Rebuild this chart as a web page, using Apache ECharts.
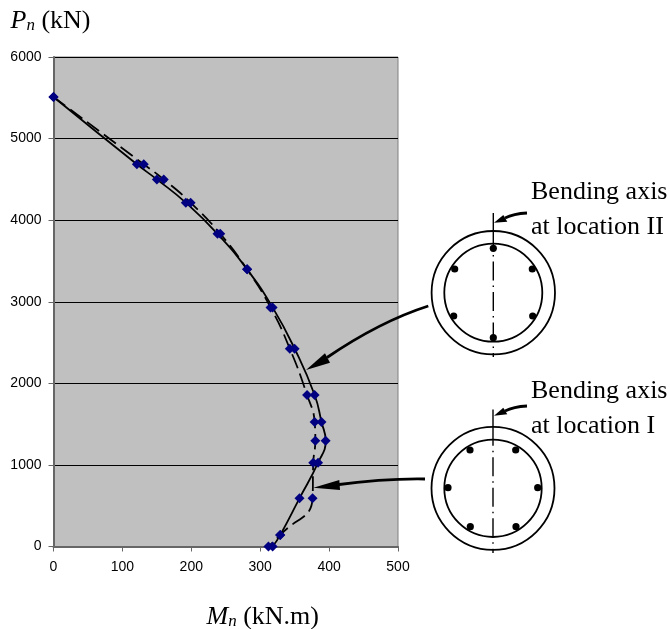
<!DOCTYPE html>
<html><head><meta charset="utf-8">
<style>html,body{margin:0;padding:0;background:#fff}#c{width:670px;height:629px}</style>
<script src="https://cdn.jsdelivr.net/npm/echarts@6/dist/echarts.min.js"></script></head>
<body><div id="c"></div>
<script>
const axialLoad = [5510,4685,4500,4215,3833,3397,2931,2424,1857,1526,1297,1027,590,140,0];
const momentLocationII = [0,121,150,192,238,281,318,350,379,389,395,384,357,329,318];
const momentLocationI  = [0,131,160,199,242,281,315,343,368,379,380,377,376,329,312];
const xTicks = {min:0,max:500,interval:100};
const yTicks = {min:0,max:6000,interval:1000};
const serif = '"Liberation Serif","Times New Roman",serif';
const sans = '"Liberation Sans",Arial,sans-serif';
const pair = a => a.map((m,i)=>[m,axialLoad[i]]);

function ring(cx,cy,ro,ri,bars,top,bottom){
  const els=[
    {type:'circle',shape:{cx,cy,r:ro},style:{stroke:'#000',lineWidth:1.8,fill:null}},
    {type:'circle',shape:{cx,cy,r:ri},style:{stroke:'#000',lineWidth:1.8,fill:null}},
    {type:'line',shape:{x1:cx,y1:top,x2:cx,y2:cy-ro},style:{stroke:'#000',lineWidth:1.4}},
    {type:'line',shape:{x1:cx,y1:cy-ro,x2:cx,y2:bottom},style:{stroke:'#000',lineWidth:1.4,lineDash:[19,5,1.5,5]}}
  ];
  bars.forEach(b=>els.push({type:'circle',shape:{cx:b[0],cy:b[1],r:3.6},style:{fill:'#000'}}));
  return els;
}
function arrow(x1,y1,cx1,cy1,cx2,cy2,x2,y2,head,w){
  return [
    {type:'bezierCurve',shape:{x1,y1,cpx1:cx1,cpy1:cy1,cpx2:cx2,cpy2:cy2,x2,y2},style:{stroke:'#000',lineWidth:w,fill:null}},
    {type:'polygon',shape:{points:head},style:{fill:'#000'}}
  ];
}
const txt=(x,y,t)=>({type:'text',x,y,style:{text:t,font:'26px '+serif,fill:'#000',textVerticalAlign:'middle'}});
const richName={i:{fontFamily:serif,fontStyle:'italic',fontSize:26,color:'#000'},
  s:{fontFamily:serif,fontStyle:'italic',fontSize:17,color:'#000',padding:[9,0,0,0]},
  t:{fontFamily:serif,fontSize:26,color:'#000'}};

const chart=echarts.init(document.getElementById('c'),null,{renderer:'canvas'});
chart.setOption({
  animation:false,
  grid:{left:53.5,top:57,width:344.5,height:489.5,outerBoundsMode:'none',show:true,backgroundColor:'#c0c0c0',borderColor:'#808080',borderWidth:1},
  xAxis:{type:'value',...xTicks,splitLine:{show:false},
    axisLine:{onZero:false,lineStyle:{color:'#666',width:2}},axisTick:{length:5,lineStyle:{color:'#666'}},
    axisLabel:{fontFamily:sans,fontSize:14,color:'#000',margin:14},
    name:'{i|M}{s|n}{t| (kN.m)}',nameLocation:'middle',nameGap:58,nameTextStyle:{rich:richName,padding:[0,0,0,74]}},
  yAxis:{type:'value',...yTicks,splitLine:{lineStyle:{color:'#000',width:1}},
    axisLine:{onZero:false,lineStyle:{color:'#666',width:2}},axisTick:{length:5,lineStyle:{color:'#666'}},
    axisLabel:{fontFamily:sans,fontSize:14,color:'#000',margin:12,formatter:v=>String(v)},
    name:'{i|P}{s|n}{t| (kN)}',nameLocation:'end',nameGap:23,nameTextStyle:{rich:richName,align:'left',padding:[0,0,0,-43]}},
  series:[
    {name:'Location II',type:'line',smooth:0.5,data:pair(momentLocationII),symbol:'diamond',symbolSize:10,
      itemStyle:{color:'#000080'},lineStyle:{color:'#000',width:1.8}},
    {name:'Location I',type:'line',smooth:0.5,data:pair(momentLocationI),symbol:'diamond',symbolSize:10,
      itemStyle:{color:'#000080'},lineStyle:{color:'#000',width:1.8,type:[15,6]}}
  ],
  graphic:{elements:[
    ...ring(493.3,292.7,61.7,49,[[493.3,248.3],[454.7,269],[532.3,269],[453.7,316],[532.7,316],[493.3,337.7]],213,357),
    ...ring(493,488.3,61.5,48.7,[[470,450],[515.7,450],[448,487.7],[537.7,487.7],[470.3,526.7],[516,526.7]],409.5,553),
    ...arrow(428.3,306,397,316,363,333,327,357.5,[[306,370],[325,353.3],[330,362.7]],2.8),
    ...arrow(425,479,395,478.5,365,481,335,485,[[313.3,487.7],[339.3,480],[340,490]],2.8),
    ...arrow(527,213,518,213.5,511,215,505,218,[[494,222.7],[503.3,215],[507.3,221.7]],2.8),
    ...arrow(527,406,518,406.5,511,408,505,411,[[494,415.7],[503.3,407.7],[507.3,414.3]],2.8),
    txt(531,192,'Bending axis'),txt(531,227,'at location II'),
    txt(531,391,'Bending axis'),txt(531,426,'at location I')
  ]}
});
</script></body></html>
